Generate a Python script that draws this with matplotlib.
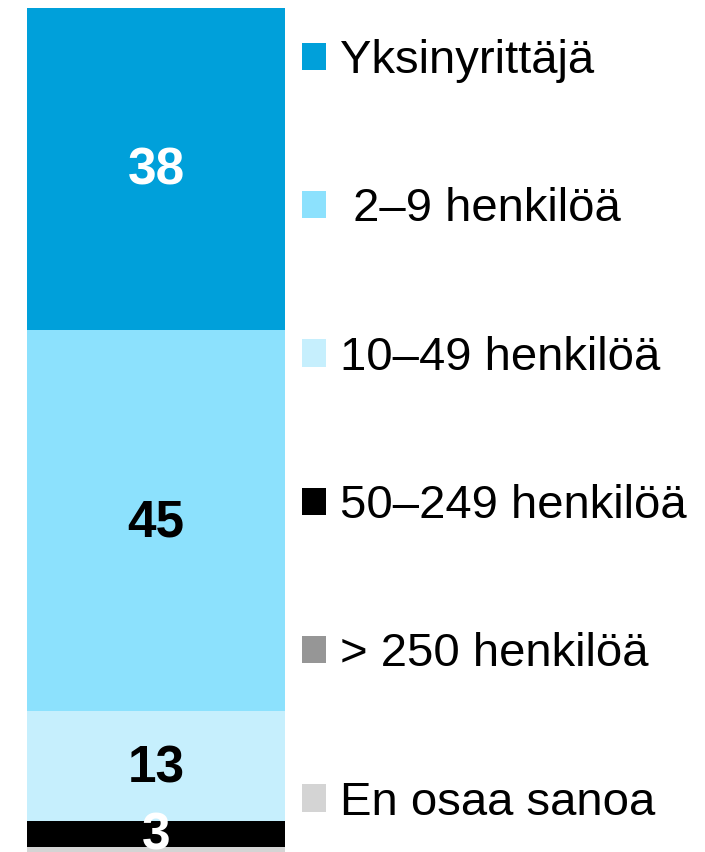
import numpy as np
import matplotlib.pyplot as plt
from matplotlib.patches import Patch

plt.rcParams["font.family"] = ["Liberation Sans", "DejaVu Sans"]

categories = ["Yksinyrittäjä", " 2–9 henkilöä", "10–49 henkilöä",
              "50–249 henkilöä", "> 250 henkilöä", "En osaa sanoa"]
values = [38, 45, 13, 3, 0, 1]
colors = ["#00A0DA", "#8CE1FD", "#C6EFFD", "#000000", "#969696", "#D4D4D4"]
label_colors = ["white", "black", "black", "white", None, None]

W, H = 705, 852
fig = plt.figure(figsize=(W / 100, H / 100), dpi=100)
ax = fig.add_axes([27 / W, -3 / H, 258 / W, (H - 8 + 3) / H])

bottom = 0
handles = []
for cat, val, col, lc in zip(categories, values, colors, label_colors):
    ax.bar(0, val, bottom=bottom, width=1.0, color=col, edgecolor="none")
    if lc is not None and val > 0:
        ax.text(0, bottom + val / 2 + 0.3, f"{val}", ha="center", va="center",
                fontsize=37, fontweight="bold", color=lc)
    handles.append(Patch(facecolor=col, edgecolor="none", label=cat))
    bottom += val

ax.set_xlim(-0.5, 0.5)
ax.set_ylim(100, 0)
ax.axis("off")

fig.legend(handles=handles, loc="upper left", bbox_to_anchor=(302 / W, 1 - 39 / H),
           frameon=False, fontsize=34, handlelength=0.51, handleheight=0.51,
           handletextpad=0.3, labelspacing=2.21, borderaxespad=0, borderpad=0)

plt.savefig("out.png", dpi=100)
